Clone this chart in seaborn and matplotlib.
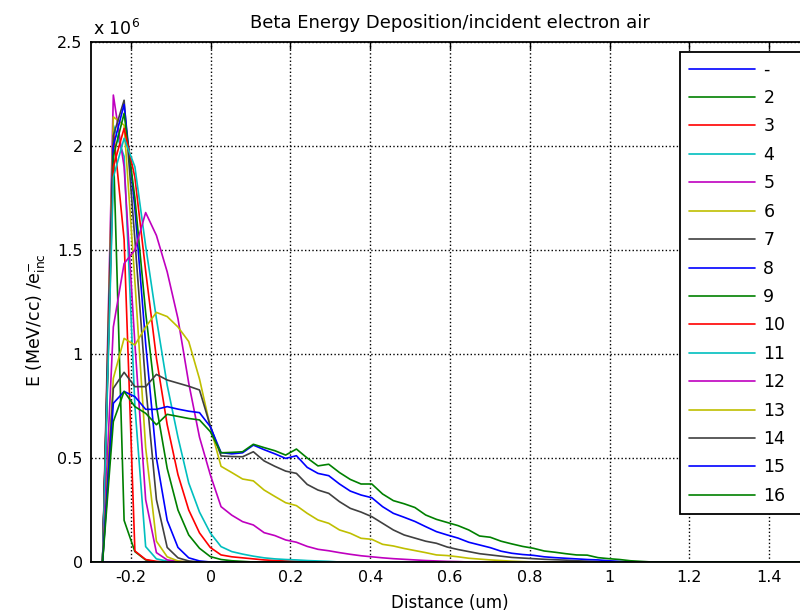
import numpy as np
import pandas as pd
import matplotlib
matplotlib.use("Agg")
import matplotlib.pyplot as plt
import seaborn as sns

# depth grid (um); last point closes every curve at the right edge
x_um = [-0.300, -0.271, -0.244, -0.217, -0.190, -0.163, -0.136, -0.109, -0.082, -0.055,
        -0.028, -0.001, 0.026, 0.053, 0.080, 0.107, 0.134, 0.161, 0.188, 0.215,
        0.242, 0.269, 0.296, 0.323, 0.350, 0.377, 0.404, 0.431, 0.458, 0.485,
        0.512, 0.539, 0.566, 0.593, 0.620, 0.647, 0.674, 0.701, 0.728, 0.755,
        0.782, 0.809, 0.836, 0.863, 0.890, 0.917, 0.944, 0.971, 0.998, 1.025,
        1.052, 1.079, 1.106, 1.133, 1.500]

# energy deposition (x 1e6 MeV/cc per incident electron);
# values past the end of each list are zero
e01 = [0.0]
e02 = [0, 0, 2.00, 0.20, 0.05, 0.01]
e03 = [0, 0, 2.08, 1.55, 0.053, 0.012, 0.003]
e04 = [0, 0, 2.10, 1.95, 0.75, 0.074, 0.015, 0.004]
e05 = [0, 0, 2.245, 1.90, 1.05, 0.30, 0.045, 0.01, 0.003]
e06 = [0, 0, 2.14, 2.10, 1.35, 0.55, 0.10, 0.025, 0.005]
e07 = [0, 0, 2.05, 2.22, 1.55, 0.85, 0.30, 0.07, 0.02, 0.005]
e08 = [0, 0, 2.00, 2.20, 1.70, 1.05, 0.50, 0.20, 0.07, 0.02, 0.005]
e09 = [0, 0, 1.95, 2.157, 1.75, 1.20, 0.75, 0.45, 0.25, 0.13, 0.066, 0.026, 0.012, 0.006, 0.003]
e10 = [0, 0, 1.90, 2.085, 1.85, 1.40, 0.98, 0.66, 0.42, 0.25, 0.14, 0.07, 0.034, 0.025, 0.02,
       0.015, 0.01, 0.007, 0.005, 0.003]
e11 = [0, 0, 1.85, 2.037, 1.90, 1.52, 1.17, 0.85, 0.60, 0.38, 0.24, 0.14, 0.074, 0.05, 0.038,
       0.028, 0.02, 0.015, 0.012, 0.01, 0.007, 0.005, 0.003]
e12 = [0, 0, 1.13, 1.435, 1.50, 1.68, 1.57, 1.395, 1.17, 0.86, 0.60, 0.42, 0.266, 0.225, 0.194,
       0.178, 0.141, 0.127, 0.106, 0.095, 0.075, 0.061, 0.054, 0.045, 0.037, 0.03, 0.025, 0.02,
       0.016, 0.013, 0.01, 0.007, 0.005, 0.003, 0.002]
e13 = [0, 0, 0.883, 1.075, 1.043, 1.13, 1.20, 1.18, 1.13, 1.06, 0.88, 0.65, 0.46, 0.43, 0.399,
       0.39, 0.346, 0.315, 0.285, 0.271, 0.234, 0.202, 0.186, 0.154, 0.138, 0.114, 0.109, 0.085,
       0.077, 0.065, 0.055, 0.045, 0.034, 0.031, 0.025, 0.018, 0.014, 0.01, 0.007, 0.004, 0.002]
e14 = [0, 0, 0.835, 0.912, 0.843, 0.843, 0.902, 0.875, 0.86, 0.845, 0.827, 0.654, 0.51, 0.507,
       0.506, 0.53, 0.486, 0.46, 0.437, 0.426, 0.373, 0.346, 0.33, 0.29, 0.258, 0.24, 0.218,
       0.186, 0.154, 0.13, 0.115, 0.1, 0.09, 0.072, 0.06, 0.05, 0.04, 0.034, 0.028, 0.022,
       0.019, 0.016, 0.013, 0.011, 0.009, 0.006, 0.004, 0.002]
e15 = [0, 0, 0.763, 0.82, 0.795, 0.734, 0.734, 0.747, 0.735, 0.725, 0.718, 0.651, 0.526, 0.52,
       0.525, 0.562, 0.54, 0.52, 0.498, 0.511, 0.455, 0.426, 0.415, 0.375, 0.341, 0.322, 0.309,
       0.266, 0.234, 0.215, 0.195, 0.17, 0.146, 0.13, 0.115, 0.095, 0.082, 0.069, 0.052, 0.042,
       0.036, 0.032, 0.025, 0.021, 0.018, 0.015, 0.012, 0.01, 0.006, 0.003]
e16 = [0, 0, 0.675, 0.82, 0.747, 0.715, 0.66, 0.71, 0.70, 0.69, 0.683, 0.627, 0.525, 0.527, 0.53,
       0.566, 0.55, 0.535, 0.514, 0.543, 0.50, 0.462, 0.47, 0.43, 0.397, 0.375, 0.375, 0.327,
       0.295, 0.28, 0.262, 0.226, 0.205, 0.19, 0.175, 0.154, 0.125, 0.119, 0.10, 0.087, 0.075,
       0.066, 0.053, 0.047, 0.04, 0.034, 0.033, 0.021, 0.016, 0.012, 0.006, 0.003]

labels = ['-', '2', '3', '4', '5', '6', '7', '8', '9', '10', '11', '12', '13', '14', '15', '16']
series = [e01, e02, e03, e04, e05, e06, e07, e08, e09, e10, e11, e12, e13, e14, e15, e16]

x_ticks = [-0.2, 0, 0.2, 0.4, 0.6, 0.8, 1, 1.2, 1.4]
y_ticks = [0, 0.5, 1, 1.5, 2, 2.5]

# old matlab colour order
matlab = [(0, 0, 1), (0, 0.5, 0), (1, 0, 0), (0, 0.75, 0.75),
          (0.75, 0, 0.75), (0.75, 0.75, 0), (0.25, 0.25, 0.25)]
colors = [matlab[i % 7] for i in range(len(labels))]

rows = []
for lab, vals in zip(labels, series):
    full = list(vals) + [0.0] * (len(x_um) - len(vals))
    for xv, yv in zip(x_um, full):
        rows.append((lab, xv, yv))
df = pd.DataFrame(rows, columns=['curve', 'x', 'E'])

sns.set_style('white')
plt.rcParams['font.family'] = ['DejaVu Sans']
plt.rcParams['mathtext.default'] = 'regular'
plt.rcParams['axes.unicode_minus'] = False
for key in ['text.color', 'axes.labelcolor', 'xtick.color', 'ytick.color']:
    plt.rcParams[key] = 'k'

fig = plt.figure(figsize=(8, 6.16), dpi=100)
ax = fig.add_axes([91 / 800, 54 / 616, 718 / 800, 520 / 616])

sns.lineplot(data=df, x='x', y='E', hue='curve', hue_order=labels, palette=colors,
             estimator=None, sort=False, linewidth=1.2, legend=False, ax=ax)

ax.set_xlim(-0.3, 1.5)
ax.set_ylim(0, 2.5)
ax.set_xticks(x_ticks)
ax.set_yticks(y_ticks)
ax.set_xticklabels(['%g' % t for t in x_ticks])
ax.set_yticklabels(['%g' % t for t in y_ticks])
ax.grid(True, linestyle=':', color='k', linewidth=1.0)
ax.tick_params(direction='in', top=True, right=True, length=5, width=1,
               labelsize=11.5, colors='k', pad=6)
for sp in ax.spines.values():
    sp.set_color('k')
    sp.set_linewidth(1.3)

ax.set_title('Beta Energy Deposition/incident electron air', fontsize=13, pad=10, color='k')
ax.set_xlabel('Distance (um)', fontsize=12, color='k')
ax.xaxis.set_label_coords(0.5, -0.062)
ax.set_ylabel('E (MeV/cc) /$e^{-}_{inc}$', fontsize=12.5, color='k')
ax.yaxis.set_label_coords(-0.061, 0.465)
ax.text(0.003, 1.006, 'x 10$^{6}$', transform=ax.transAxes, fontsize=12.5,
        ha='left', va='bottom', color='k')

# legend box runs past the right edge of the picture, as in the original
leg = ax.legend(ax.get_lines()[:len(labels)], labels, loc='upper left',
                bbox_to_anchor=(0.8203, 0.0, 0.20, 0.9808), mode='expand',
                borderaxespad=0, fontsize=12.5,
                handlelength=3.8, handletextpad=0.5, labelspacing=0.60, borderpad=0.5,
                fancybox=False, framealpha=1, edgecolor='k')
leg.get_frame().set_linewidth(1.3)
for t in leg.get_texts():
    t.set_color('k')

fig.savefig('out.png', dpi=100)
